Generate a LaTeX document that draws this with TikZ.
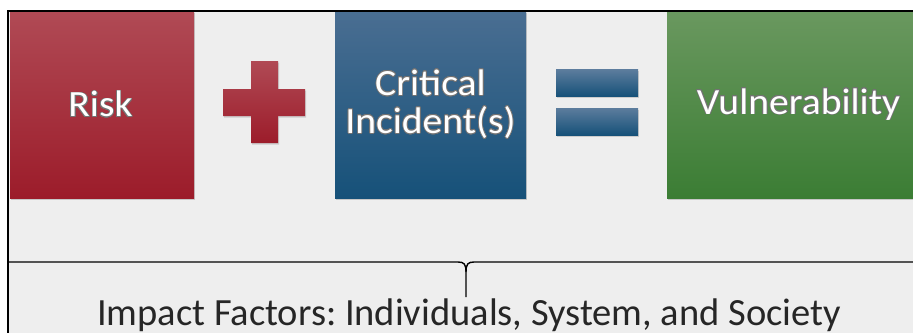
\documentclass[tikz,border=0pt]{standalone}
\usepackage{fontspec}
\setmainfont{Carlito}
\newfontfamily\boxfont[FakeStretch=1.07]{Carlito}
\usepackage{contour}
\contourlength{0.7pt}
\contournumber{24}
\usetikzlibrary{shadows}
\definecolor{bggray}{HTML}{EEEEEE}
\definecolor{riskTop}{HTML}{B04A55}
\definecolor{riskBot}{HTML}{9C1C2A}
\definecolor{incTop}{HTML}{4A6E92}
\definecolor{incBot}{HTML}{165179}
\definecolor{vulTop}{HTML}{6A985F}
\definecolor{vulBot}{HTML}{3B7D34}
\newcommand{\boxtext}[1]{\contour{black!55}{#1}}
\frenchspacing
\tikzset{
  termbox/.style={minimum height=187pt, inner sep=0pt, text=white,
    font=\boxfont\fontsize{37}{38}\selectfont, align=center,
    drop shadow={shadow xshift=1pt, shadow yshift=-2pt, opacity=0.35}},
  eqbar/.style={minimum width=82pt, minimum height=27pt, inner sep=0pt,
    top color=incTop!90, bottom color=incBot,
    drop shadow={shadow xshift=1pt, shadow yshift=-1.5pt, opacity=0.3}}
}
\begin{document}
\begin{tikzpicture}[x=1pt,y=-1pt]
  \useasboundingbox (0,0) rectangle (913,333);
  \fill[white] (0,0) rectangle (913,333);
  \fill[bggray] (8,11) rectangle (913,333);

  % the three terms
  \node[termbox, minimum width=184pt, top color=riskTop, bottom color=riskBot] (risk) at (102,104.5) {\boxtext{Risk}\hspace*{3pt}};
  \node[termbox, minimum width=191pt, top color=incTop, bottom color=incBot] (incident) at (430.5,104.5) {\boxtext{Critical}\\\boxtext{Incident(s)}};
  \node[termbox, minimum width=260pt, top color=vulTop, bottom color=vulBot, text width=250pt] (vuln) at (797,104.5) {\boxtext{Vulnerability}\hspace*{-3pt}};

  % plus sign
  \shade[top color=riskTop, bottom color=riskBot,
    drop shadow={shadow xshift=1pt, shadow yshift=-1.5pt, opacity=0.3}]
    (251,61) -- (278,61) -- (278,89) -- (305,89) -- (305,116) -- (278,116)
    -- (278,143) -- (251,143) -- (251,116) -- (223,116) -- (223,89) -- (251,89) -- cycle;

  % equals sign
  \node[eqbar] (eqtop) at (597,83) {};
  \node[eqbar] (eqbot) at (597,121.5) {};

  % frame
  \draw[line width=1.8pt] (913,11) -- (8,11) -- (8,333);

  % brace
  \coordinate (braceL) at (8,262);
  \coordinate (braceR) at (913,262);
  \coordinate (tip) at (466,297);
  \draw[line width=1.4pt] (braceL) -- (458,262)
    .. controls (464,262) and (466,264) .. (466,272) -- (tip);
  \draw[line width=1.4pt] (braceR) -- (474,262)
    .. controls (468,262) and (466,264) .. (466,272);

  \node[anchor=base, font=\fontsize{38.5}{40}\selectfont, text=black!85] (impact) at (469,325)
    {Impact Factors: Individuals, System, and Society};
\end{tikzpicture}
\end{document}
